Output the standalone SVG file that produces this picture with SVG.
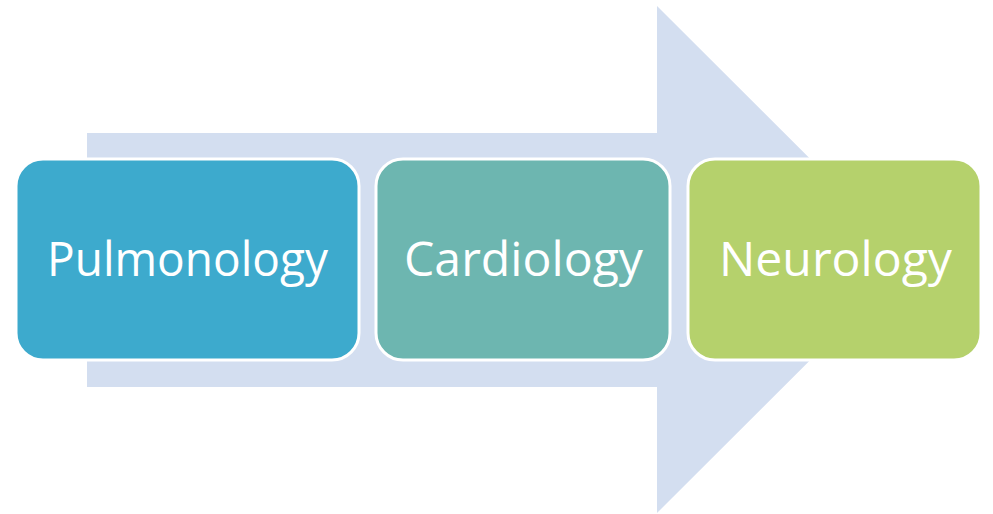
<svg xmlns="http://www.w3.org/2000/svg" width="993" height="514" viewBox="0 0 993 514">
<style>
.box{stroke:#FFFFFF;stroke-width:3}
.lbl{font-family:"Open Sans","Liberation Sans",sans-serif;font-size:47px;fill:#FFFFFF;text-anchor:middle;dominant-baseline:central}
</style>
<rect width="993" height="514" fill="#FFFFFF"/>
<g id="arrow">
<polygon points="87,133 657,133 657,6 911,259.5 657,513 657,387 87,387" fill="#D3DEF0"/>
</g>
<g id="connectors"></g>
<g id="node-pulmonology">
<rect class="box" x="16" y="159" width="343" height="201" rx="27" fill="#3DAACD"/>
<text class="lbl" x="187.5" y="258" textLength="281" lengthAdjust="spacingAndGlyphs">Pulmonology</text>
</g>
<g id="node-cardiology">
<rect class="box" x="376" y="159" width="294" height="201" rx="27" fill="#6DB6B0"/>
<text class="lbl" x="523.5" y="258" textLength="239" lengthAdjust="spacingAndGlyphs">Cardiology</text>
</g>
<g id="node-neurology">
<rect class="box" x="688" y="159" width="293" height="201" rx="27" fill="#B5D16C"/>
<text class="lbl" x="835.5" y="258" textLength="233" lengthAdjust="spacingAndGlyphs">Neurology</text>
</g>
</svg>
